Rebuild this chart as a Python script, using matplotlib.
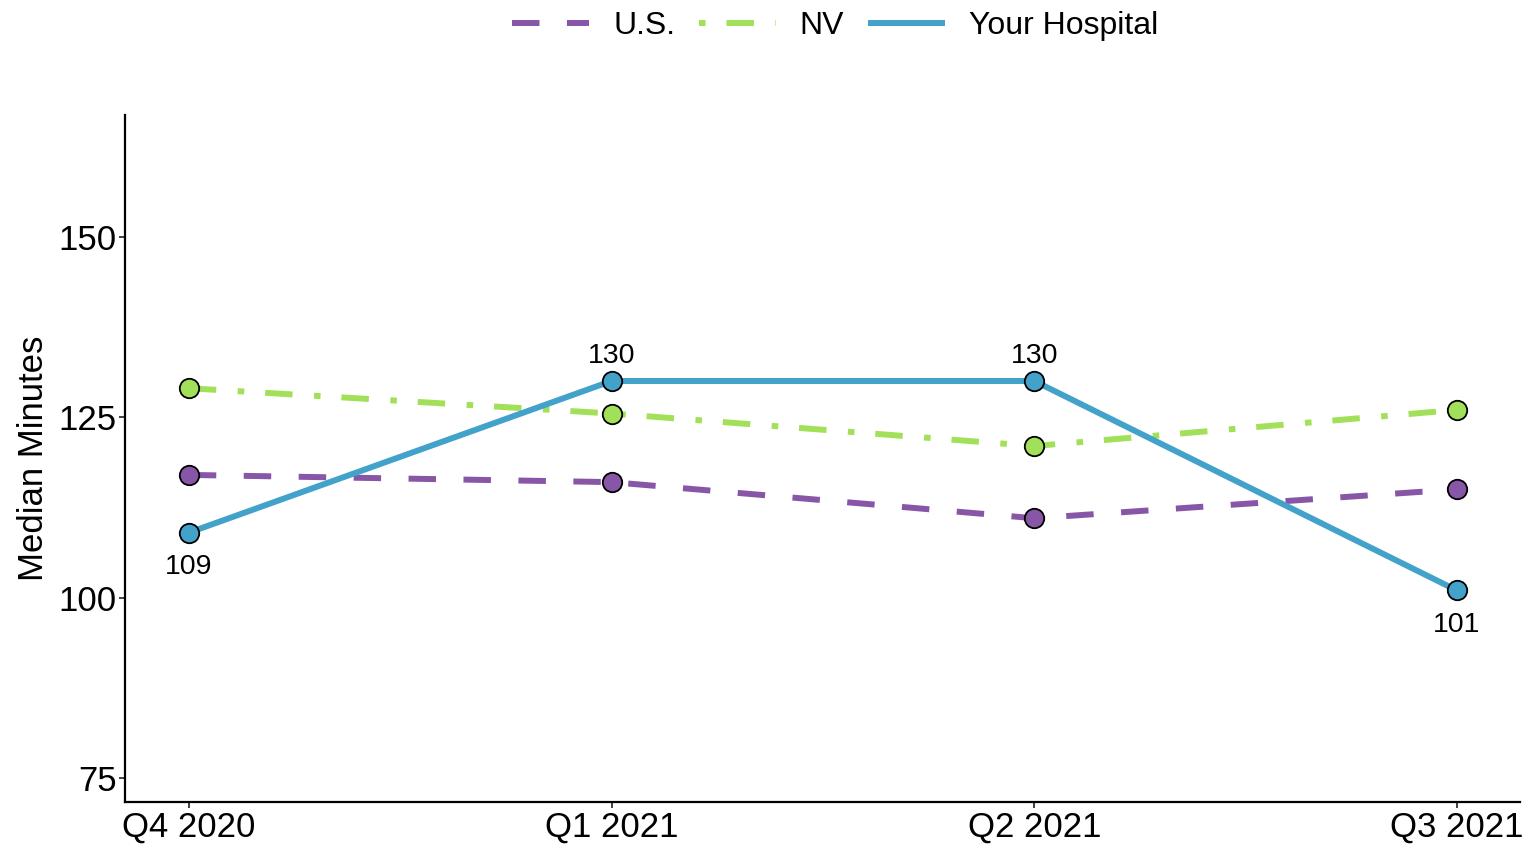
import matplotlib.pyplot as plt
from matplotlib.lines import Line2D

plt.rcParams['font.family'] = ['Liberation Sans', 'DejaVu Sans']

quarters = ['Q4 2020', 'Q1 2021', 'Q2 2021', 'Q3 2021']
us_minutes = [117, 116, 111, 115]
nv_minutes = [129, 125.5, 121, 126]
hospital_minutes = [109, 130, 130, 101]
label_above = [False, True, True, False]

purple = '#8856a7'
green = '#a3e05a'
blue = '#43a2ca'

fig = plt.figure(figsize=(15.24, 8.47), dpi=100)
ax = fig.add_axes([0.082, 0.053, 0.9154, 0.811])

x = list(range(len(quarters)))
lw = 4.3
us_dash = (4.6, 4.6)
nv_dash = (4.6, 3.6, 1.1, 3.5)

ax.plot(x, us_minutes, color=purple, lw=lw, dashes=us_dash, dash_capstyle='butt', zorder=2)
ax.plot(x, nv_minutes, color=green, lw=lw, dashes=nv_dash, dash_capstyle='butt', zorder=2)
ax.plot(x, hospital_minutes, color=blue, lw=lw, solid_capstyle='butt', zorder=3)

for vals, col, z in [(us_minutes, purple, 4), (nv_minutes, green, 4), (hospital_minutes, blue, 5)]:
    ax.plot(x, vals, ls='none', marker='o', ms=14, mfc=col, mec='black', mew=1.3, zorder=z)

# value labels for the hospital series
for xi, v, above in zip(x, hospital_minutes, label_above):
    if above:
        ax.annotate(f'{v:g}', (xi, v), xytext=(0, 8.6), textcoords='offset points',
                    ha='center', va='bottom', fontsize=20.5)
    else:
        ax.annotate(f'{v:g}', (xi, v), xytext=(0, -15.5), textcoords='offset points',
                    ha='center', va='top', fontsize=20.5)

ax.set_xlim(-0.151, 3.149)
ax.set_ylim(71.7, 166.8)
ax.set_xticks(x)
ax.set_xticklabels(quarters)
ax.set_yticks([75, 100, 125, 150])
ax.tick_params(axis='both', labelsize=25, length=4, width=1.3, color='#333333', pad=2)
ax.set_ylabel('Median Minutes', fontsize=25, labelpad=6)

for side in ['top', 'right']:
    ax.spines[side].set_visible(False)
for side in ['left', 'bottom']:
    ax.spines[side].set_linewidth(1.6)

handles = [
    Line2D([], [], color=purple, lw=lw, linestyle=(0, us_dash), dash_capstyle='butt'),
    Line2D([], [], color=green, lw=lw, linestyle=(8.2, nv_dash), dash_capstyle='butt'),
    Line2D([], [], color=blue, lw=lw, solid_capstyle='butt'),
]
fig.legend(handles, ['U.S.', 'NV', 'Your Hospital'], loc='center',
           bbox_to_anchor=(0.548, 0.969), ncol=3, frameon=False, fontsize=23,
           handlelength=2.4, handletextpad=0.75, columnspacing=0.75)

fig.savefig('out.png', dpi=100)
